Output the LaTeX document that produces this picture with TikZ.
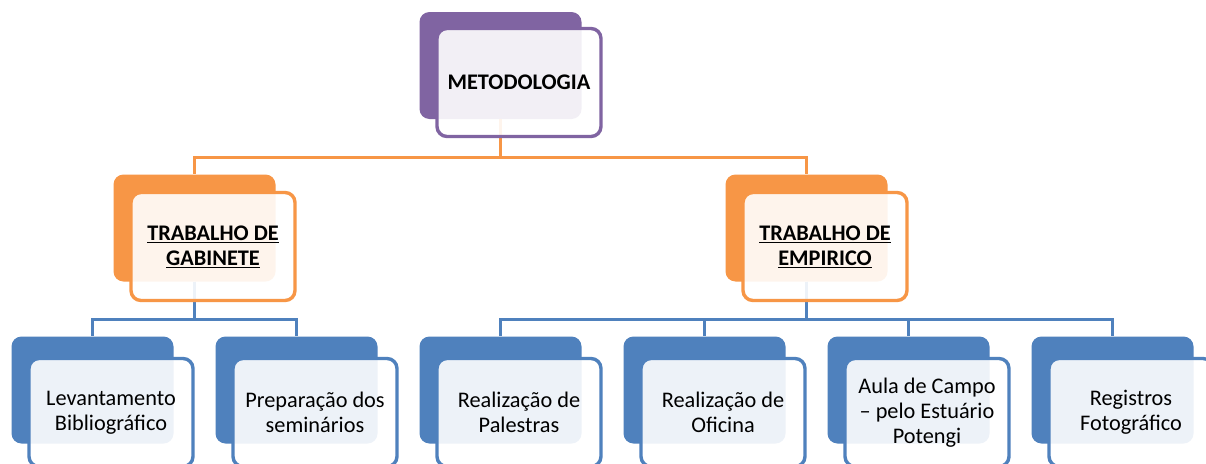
\documentclass[tikz,border=0pt]{standalone}
\usepackage{fontspec}
\setmainfont{Carlito}
\definecolor{mpurple}{HTML}{8064A2}
\definecolor{morange}{HTML}{F79646}
\definecolor{mblue}{HTML}{4F81BD}
\newcommand{\ulbf}[1]{\textbf{\setlength{\fboxsep}{0pt}\underline{#1}}}
\begin{document}
\begin{tikzpicture}[x=1pt,y=-1pt,
  backbox/.style={rectangle, rounded corners=10pt, fill=#1, minimum width=162pt, minimum height=107pt, inner sep=0pt},
  frontbox/.style={rectangle, rounded corners=10pt, draw=#1, line width=3.4pt, fill=white, fill opacity=0.9, text opacity=1, minimum width=164pt, minimum height=108pt, inner sep=0pt, align=center, font=\fontsize{22.3}{25}\selectfont},
  conn/.style={draw=#1, line width=3.2pt}]
\clip (0,0) rectangle (1206,463);
\fill[white] (0,0) rectangle (1206,463);
% back boxes
\node[backbox=mpurple] (mb) at (500.5,65.5) {};
\node[backbox=morange] (gb) at (194.5,228) {};
\node[backbox=morange] (eb) at (806.5,228) {};
\foreach \k/\n in {0/b1,1/b2,2/b3,3/b4,4/b5,5/b6}{
  \node[backbox=mblue] (\n) at (92.5+204*\k,390) {};
}
% connectors
\draw[conn=morange] (mb.south) -- ++(0,38) -| (gb.north);
\draw[conn=morange] (mb.south) -- ++(0,38) -| (eb.north);
\draw[conn=mblue] (gb.south) -- ++(0,38) -| (b1.north);
\draw[conn=mblue] (gb.south) -- ++(0,38) -| (b2.north);
\draw[conn=mblue] (eb.south) -- ++(0,38) -| (b3.north);
\draw[conn=mblue] (eb.south) -- ++(0,38) -| (b4.north);
\draw[conn=mblue] (eb.south) -- ++(0,38) -| (b5.north);
\draw[conn=mblue] (eb.south) -- ++(0,38) -| (b6.north);
% front boxes
\node[frontbox=mpurple] (m) at (519,82.5) {\textbf{METODOLOGIA}};
\node[frontbox=morange] (g) at (213,246.5) {\ulbf{TRABALHO DE}\\\ulbf{GABINETE}};
\node[frontbox=morange] (e) at (825,246.5) {\ulbf{TRABALHO DE}\\\ulbf{EMPIRICO}};
\node[frontbox=mblue] (f1) at (111,412.5) {Levantamento\\Bibliográfico};
\node[frontbox=mblue] (f2) at (315,412.5) {Preparação dos\\seminários};
\node[frontbox=mblue] (f3) at (519,412.5) {Realização de\\Palestras};
\node[frontbox=mblue] (f4) at (723,412.5) {Realização de\\Oficina};
\node[frontbox=mblue] (f5) at (927,412.5) {Aula de Campo\\– pelo Estuário\\Potengi};
\node[frontbox=mblue] (f6) at (1131,412.5) {Registros\\Fotográfico};
\end{tikzpicture}
\end{document}
